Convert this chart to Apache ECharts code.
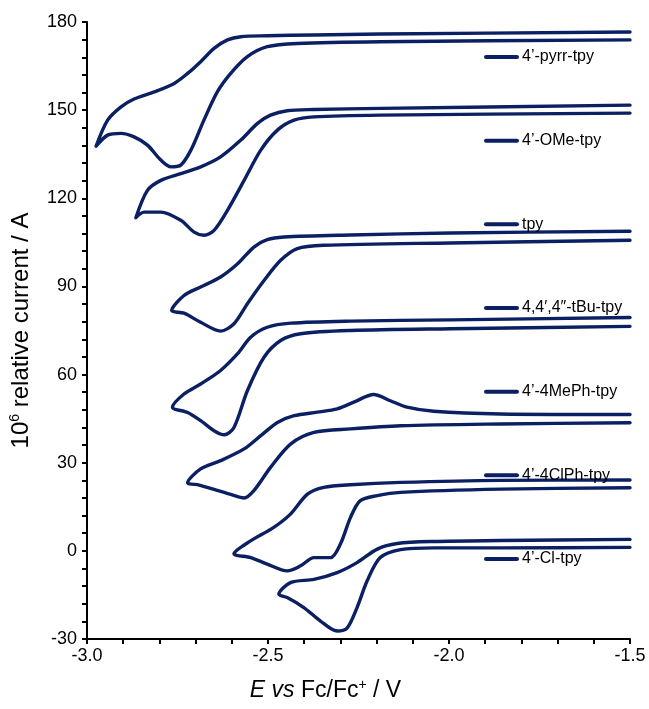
<!DOCTYPE html>
<html>
<head>
<meta charset="utf-8">
<script src="https://cdn.jsdelivr.net/npm/echarts@6/dist/echarts.min.js"></script>
<style>html,body{margin:0;padding:0;background:#fff;}#c{width:649px;height:709px;}</style>
</head>
<body>
<div id="c"></div>
<script>
// Series names (legend labels)
const names = ["4\u2019-pyrr-tpy", "4\u2019-OMe-tpy", "tpy", "4,4\u2032,4\u2033-tBu-tpy", "4\u2019-4MePh-tpy", "4\u2019-4ClPh-tpy", "4\u2019-Cl-tpy"];

// Each loop: potential (V) and current (10^6 A), traced around the voltammogram
const pyrrE = [-1.5, -2.189, -2.419, -2.502, -2.557, -2.603, -2.640, -2.677, -2.713, -2.741, -2.768, -2.796, -2.833, -2.870, -2.906, -2.943, -2.975, -2.943, -2.906, -2.870, -2.814, -2.759, -2.722, -2.686, -2.649, -2.612, -2.575, -2.502, -2.374, -2.189, -1.5];
const pyrrI = [173.9, 173.3, 172.7, 171.6, 168.2, 162.5, 156.2, 146.6, 136.4, 131.3, 130.7, 133.0, 138.1, 140.9, 142.1, 141.5, 137.7, 146.6, 151.1, 153.8, 156.2, 159.1, 162.5, 166.5, 171.0, 173.9, 175.0, 175.3, 175.6, 175.9, 176.6];

const omeE = [-1.5, -2.189, -2.373, -2.428, -2.474, -2.520, -2.566, -2.612, -2.649, -2.677, -2.704, -2.741, -2.796, -2.842, -2.865, -2.833, -2.796, -2.741, -2.686, -2.631, -2.575, -2.529, -2.493, -2.447, -2.373, -2.189, -1.5];
const omeI = [149.0, 148.3, 147.7, 146.6, 143.2, 136.4, 126.1, 115.9, 109.1, 107.4, 108.5, 112.5, 115.3, 115.3, 113.4, 122.7, 126.1, 128.4, 130.7, 134.1, 139.8, 145.5, 148.3, 149.8, 150.2, 150.6, 151.7];

const tpyE = [-1.5, -1.996, -2.346, -2.419, -2.465, -2.511, -2.557, -2.594, -2.631, -2.686, -2.732, -2.766, -2.732, -2.686, -2.631, -2.584, -2.539, -2.502, -2.456, -2.272, -1.996, -1.5];
const tpyI = [105.7, 104.8, 104.0, 102.9, 98.9, 92.0, 84.1, 77.3, 74.8, 77.8, 80.9, 81.8, 86.9, 89.8, 93.2, 97.7, 103.4, 105.9, 106.8, 107.5, 108.2, 108.8];

const tbuE = [-1.5, -1.996, -2.272, -2.410, -2.465, -2.511, -2.557, -2.594, -2.621, -2.649, -2.686, -2.722, -2.764, -2.732, -2.686, -2.631, -2.584, -2.548, -2.502, -2.437, -2.272, -1.996, -1.5];
const tbuI = [76.4, 75.6, 75.0, 73.9, 71.6, 65.9, 54.5, 42.0, 39.5, 40.9, 44.3, 47.1, 48.9, 53.4, 56.8, 61.4, 67.1, 72.7, 76.1, 77.5, 78.2, 78.6, 79.4];

const mephE = [-1.5, -1.858, -2.134, -2.272, -2.373, -2.437, -2.493, -2.539, -2.566, -2.603, -2.649, -2.690, -2.722, -2.686, -2.631, -2.566, -2.520, -2.474, -2.428, -2.364, -2.309, -2.263, -2.208, -2.162, -2.116, -2.042, -1.858, -1.5];
const mephI = [43.6, 43.2, 42.6, 41.5, 40.3, 36.4, 28.4, 20.5, 18.0, 19.2, 20.9, 22.4, 23.2, 27.9, 30.7, 34.7, 39.2, 43.7, 46.0, 47.2, 48.3, 50.6, 53.2, 51.1, 48.9, 47.5, 46.6, 46.4];

const clphE = [-1.5, -1.858, -2.134, -2.198, -2.245, -2.272, -2.300, -2.327, -2.373, -2.410, -2.447, -2.502, -2.548, -2.594, -2.548, -2.484, -2.438, -2.391, -2.346, -2.272, -2.134, -1.858, -1.5];
const clphI = [21.5, 21.0, 19.9, 18.8, 17.1, 11.4, 2.3, -2.3, -2.3, -5.1, -6.8, -4.5, -2.3, -1.0, 3.4, 8.0, 12.5, 19.3, 21.6, 22.5, 23.3, 24.0, 24.1];

const clE = [-1.5, -1.858, -2.042, -2.134, -2.190, -2.226, -2.254, -2.281, -2.309, -2.355, -2.401, -2.447, -2.470, -2.438, -2.373, -2.309, -2.254, -2.198, -2.143, -2.042, -1.858, -1.5];
const clI = [1.2, 1.0, 1.0, 0.4, -2.3, -10.2, -19.3, -26.2, -27.3, -23.9, -19.3, -15.9, -14.8, -10.8, -9.7, -7.4, -4.0, 0.6, 2.5, 3.2, 3.5, 3.9];

const loopsE = [pyrrE, omeE, tpyE, tbuE, mephE, clphE, clE];
const loopsI = [pyrrI, omeI, tpyI, tbuI, mephI, clphI, clI];

const NAVY = '#0b1f63';
const FONT = 'Arial, "Liberation Sans", sans-serif';

const series = names.map((n, k) => ({
  name: n,
  type: 'line',
  data: loopsE[k].map((e, i) => [e, loopsI[k][i]]),
  symbol: 'none',
  smooth: 0.3,
  lineStyle: { color: NAVY, width: 3.4, cap: 'round', join: 'round' },
  itemStyle: { color: NAVY },
  animation: false
}));

const chart = echarts.init(document.getElementById('c'), null, { renderer: 'canvas' });
chart.setOption({
  backgroundColor: '#fff',
  animation: false,
  grid: { left: 86, right: 19, top: 22, bottom: 70, containLabel: false },
  legend: {
    data: names,
    orient: 'vertical',
    left: 484,
    top: 48,
    padding: 0,
    itemWidth: 31,
    itemHeight: 18,
    itemGap: 65.67,
    selectedMode: false,
    itemStyle: { color: 'rgba(0,0,0,0)', borderWidth: 0, opacity: 0 },
    lineStyle: { width: 4, cap: 'round', color: NAVY },
    textStyle: { fontSize: 16, color: '#000', fontFamily: FONT, lineHeight: 18 }
  },
  xAxis: {
    type: 'value', min: -3, max: -1.5, interval: 0.5,
    name: '{i|E vs}{n| Fc/Fc}{s|+}{n| / V}',
    nameLocation: 'middle', nameGap: 39,
    nameTextStyle: {
      padding: [0, 66, 0, 0],
      rich: {
        i: { fontSize: 23, fontStyle: 'italic', fontFamily: FONT, color: '#000', lineHeight: 26 },
        n: { fontSize: 23, fontFamily: FONT, color: '#000', lineHeight: 26 },
        s: { fontSize: 14, fontFamily: FONT, color: '#000', lineHeight: 26, verticalAlign: 'top', padding: [0, 0, 7, 0] }
      }
    },
    axisLine: { onZero: false, lineStyle: { color: '#000', width: 2 } },
    axisTick: { length: 5, lineStyle: { color: '#000', width: 2 } },
    minorTick: { show: true, splitNumber: 5, length: 5, lineStyle: { color: '#000', width: 2 } },
    splitLine: { show: false },
    axisLabel: { fontSize: 18, color: '#000', fontFamily: FONT, margin: 8, formatter: v => v.toFixed(1) }
  },
  yAxis: {
    type: 'value', min: -30, max: 180, interval: 30,
    name: '{n|10}{s|6}{n| relative current / A}',
    nameLocation: 'middle', nameGap: 53, nameRotate: 90,
    nameTextStyle: {
      rich: {
        n: { fontSize: 24, fontFamily: FONT, color: '#000', lineHeight: 26 },
        s: { fontSize: 14, fontFamily: FONT, color: '#000', lineHeight: 26, verticalAlign: 'top', padding: [0, 0, 7, 0] }
      }
    },
    axisLine: { onZero: false, lineStyle: { color: '#000', width: 2 } },
    axisTick: { length: 5, lineStyle: { color: '#000', width: 2 } },
    minorTick: { show: true, splitNumber: 5, length: 5, lineStyle: { color: '#000', width: 2 } },
    splitLine: { show: false },
    axisLabel: { fontSize: 18, color: '#000', fontFamily: FONT, margin: 10 }
  },
  series: series
});
</script>
</body>
</html>
